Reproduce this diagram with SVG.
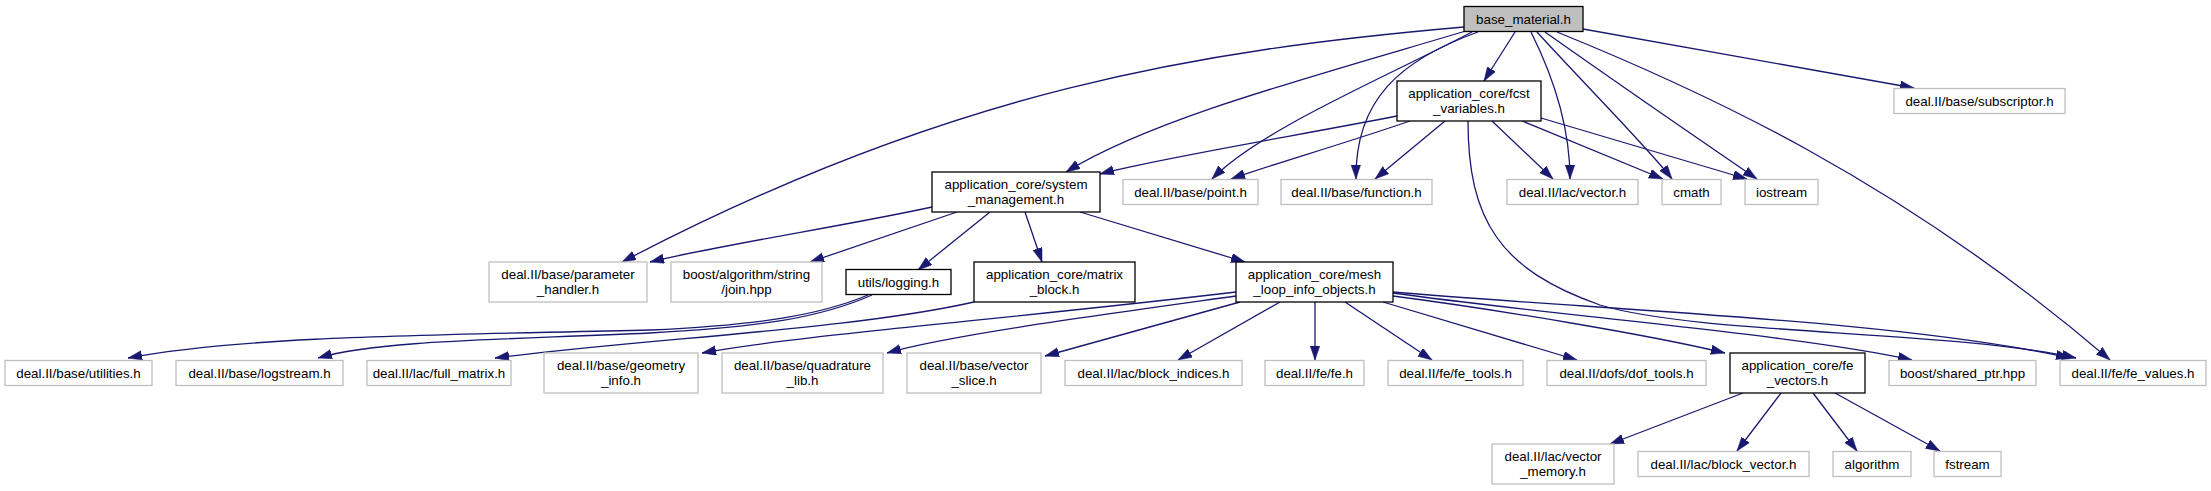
<svg xmlns="http://www.w3.org/2000/svg" width="2211" height="491" viewBox="0 0 2211 491">
<style>
  .bg { fill: #ffffff; }
  .ext rect { fill: #ffffff; stroke: #bfbfbf; stroke-width: 1.3; }
  .doc rect { fill: #ffffff; stroke: #000000; stroke-width: 1.3; }
  .cur rect { fill: #bfbfbf; stroke: #000000; stroke-width: 1.3; }
  text { font-family: "Liberation Sans", Arial, sans-serif; font-size: 13.33px; fill: #000000; text-anchor: middle; }
  .edges path { fill: none; stroke: #191970; stroke-width: 1.3; marker-end: url(#arr); }
</style>
<defs>
  <marker id="arr" markerUnits="userSpaceOnUse" markerWidth="15" markerHeight="11" refX="14" refY="4.75" orient="auto">
    <path d="M0,0 L14,4.75 L0,9.5 z" fill="#191970" stroke="#191970" stroke-width="0.5"/>
  </marker>
</defs>
<rect class="bg" x="0" y="0" width="2211" height="491"/>

<g id="edges" class="edges">
  <!-- base_material.h -->
  <path d="M1464,27 C1200,50 950,90 622,262"/>
  <path d="M1466,31 C1300,80 1150,120 1066,172"/>
  <path d="M1472,32 C1380,80 1260,130 1212,179"/>
  <path d="M1478,32 C1400,60 1355,100 1356,179"/>
  <path d="M1515,32 L1484,81"/>
  <path d="M1531,32 C1555,80 1570,130 1570,179"/>
  <path d="M1537,32 C1590,90 1650,150 1672,179"/>
  <path d="M1545,32 C1620,85 1700,140 1757,179"/>
  <path d="M1557,32 C1700,90 1900,180 2110,360"/>
  <path d="M1583,29 L1914,88"/>
  <!-- fcst_variables.h -->
  <path d="M1397,116 C1300,135 1150,160 1100,174"/>
  <path d="M1410,121 C1340,145 1270,165 1231,179"/>
  <path d="M1445,121 L1375,179"/>
  <path d="M1492,121 L1553,179"/>
  <path d="M1522,121 L1663,179"/>
  <path d="M1541,118 L1747,179"/>
  <path d="M1468,121 C1468,220 1500,270 1600,305 C1700,335 1950,330 2076,358"/>
  <!-- system_management.h -->
  <path d="M932,207 C850,225 720,245 650,262"/>
  <path d="M957,212 L810,262"/>
  <path d="M990,212 L918,270"/>
  <path d="M1025,212 L1042,262"/>
  <path d="M1080,212 L1245,262"/>
  <!-- logging.h -->
  <path d="M868,295 C820,315 760,325 650,330 C450,335 250,335 128,358"/>
  <path d="M872,295 C820,318 760,327 650,333 C500,340 380,340 318,358"/>
  <!-- matrix_block.h -->
  <path d="M974,302 C850,330 650,338 495,358"/>
  <!-- mesh_loop_info_objects.h -->
  <path d="M1236,292 C1000,320 800,335 702,353"/>
  <path d="M1236,296 C1100,315 950,335 887,353"/>
  <path d="M1240,302 L1045,356"/>
  <path d="M1280,302 L1178,360"/>
  <path d="M1315,302 L1315,360"/>
  <path d="M1345,302 L1432,360"/>
  <path d="M1383,302 L1577,360"/>
  <path d="M1393,296 C1500,310 1650,335 1725,353"/>
  <path d="M1393,293 C1550,315 1800,335 1912,360"/>
  <path d="M1393,292 C1600,310 1900,320 2070,358"/>
  <!-- fe_vectors.h -->
  <path d="M1743,393 L1610,444"/>
  <path d="M1781,393 L1737,451"/>
  <path d="M1813,393 L1857,451"/>
  <path d="M1835,393 L1940,451"/>
</g>

<g id="n0" class="cur"><rect x="1464" y="6.5" width="119" height="25"/><text x="1523.5" y="23.5">base_material.h</text></g>
<g id="n1" class="doc"><rect x="1397" y="81" width="144" height="40"/><text x="1469" y="97.5">application_core/fcst</text><text x="1469" y="112.5">_variables.h</text></g>
<g id="n2" class="ext"><rect x="1894" y="88.5" width="171" height="25"/><text x="1979.5" y="105.5">deal.II/base/subscriptor.h</text></g>
<g id="n3" class="doc"><rect x="932" y="172" width="168" height="40"/><text x="1016" y="188.5">application_core/system</text><text x="1016" y="203.5">_management.h</text></g>
<g id="n4" class="ext"><rect x="1123" y="179.5" width="135" height="25"/><text x="1190.5" y="196.5">deal.II/base/point.h</text></g>
<g id="n5" class="ext"><rect x="1281" y="179.5" width="151" height="25"/><text x="1356.5" y="196.5">deal.II/base/function.h</text></g>
<g id="n6" class="ext"><rect x="1507" y="179.5" width="131" height="25"/><text x="1572.5" y="196.5">deal.II/lac/vector.h</text></g>
<g id="n7" class="ext"><rect x="1662" y="179.5" width="59" height="25"/><text x="1691.5" y="196.5">cmath</text></g>
<g id="n8" class="ext"><rect x="1745" y="179.5" width="73" height="25"/><text x="1781.5" y="196.5">iostream</text></g>
<g id="n9" class="ext"><rect x="489" y="262" width="158" height="40"/><text x="568" y="278.5">deal.II/base/parameter</text><text x="568" y="293.5">_handler.h</text></g>
<g id="n10" class="ext"><rect x="671" y="262" width="151" height="40"/><text x="746.5" y="278.5">boost/algorithm/string</text><text x="746.5" y="293.5">/join.hpp</text></g>
<g id="n11" class="doc"><rect x="846" y="269.5" width="105" height="25"/><text x="898.5" y="286.5">utils/logging.h</text></g>
<g id="n12" class="doc"><rect x="974" y="262" width="161" height="40"/><text x="1054.5" y="278.5">application_core/matrix</text><text x="1054.5" y="293.5">_block.h</text></g>
<g id="n13" class="doc"><rect x="1236" y="262" width="157" height="40"/><text x="1314.5" y="278.5">application_core/mesh</text><text x="1314.5" y="293.5">_loop_info_objects.h</text></g>
<g id="n14" class="ext"><rect x="5" y="360.5" width="147" height="25"/><text x="78.5" y="377.5">deal.II/base/utilities.h</text></g>
<g id="n15" class="ext"><rect x="176" y="360.5" width="167" height="25"/><text x="259.5" y="377.5">deal.II/base/logstream.h</text></g>
<g id="n16" class="ext"><rect x="367" y="360.5" width="144" height="25"/><text x="439" y="377.5">deal.II/lac/full_matrix.h</text></g>
<g id="n17" class="ext"><rect x="544" y="353" width="154" height="40"/><text x="621" y="369.5">deal.II/base/geometry</text><text x="621" y="384.5">_info.h</text></g>
<g id="n18" class="ext"><rect x="722" y="353" width="161" height="40"/><text x="802.5" y="369.5">deal.II/base/quadrature</text><text x="802.5" y="384.5">_lib.h</text></g>
<g id="n19" class="ext"><rect x="907" y="353" width="134" height="40"/><text x="974" y="369.5">deal.II/base/vector</text><text x="974" y="384.5">_slice.h</text></g>
<g id="n20" class="ext"><rect x="1065" y="360.5" width="177" height="25"/><text x="1153.5" y="377.5">deal.II/lac/block_indices.h</text></g>
<g id="n21" class="ext"><rect x="1265" y="360.5" width="99" height="25"/><text x="1314.5" y="377.5">deal.II/fe/fe.h</text></g>
<g id="n22" class="ext"><rect x="1388" y="360.5" width="135" height="25"/><text x="1455.5" y="377.5">deal.II/fe/fe_tools.h</text></g>
<g id="n23" class="ext"><rect x="1547" y="360.5" width="159" height="25"/><text x="1626.5" y="377.5">deal.II/dofs/dof_tools.h</text></g>
<g id="n24" class="doc"><rect x="1730" y="353" width="135" height="40"/><text x="1797.5" y="369.5">application_core/fe</text><text x="1797.5" y="384.5">_vectors.h</text></g>
<g id="n25" class="ext"><rect x="1889" y="360.5" width="147" height="25"/><text x="1962.5" y="377.5">boost/shared_ptr.hpp</text></g>
<g id="n26" class="ext"><rect x="2060" y="360.5" width="146" height="25"/><text x="2133" y="377.5">deal.II/fe/fe_values.h</text></g>
<g id="n27" class="ext"><rect x="1492" y="444" width="122" height="40"/><text x="1553" y="460.5">deal.II/lac/vector</text><text x="1553" y="475.5">_memory.h</text></g>
<g id="n28" class="ext"><rect x="1638" y="451.5" width="171" height="25"/><text x="1723.5" y="468.5">deal.II/lac/block_vector.h</text></g>
<g id="n29" class="ext"><rect x="1833" y="451.5" width="78" height="25"/><text x="1872" y="468.5">algorithm</text></g>
<g id="n30" class="ext"><rect x="1934" y="451.5" width="67" height="25"/><text x="1967.5" y="468.5">fstream</text></g>
</svg>
